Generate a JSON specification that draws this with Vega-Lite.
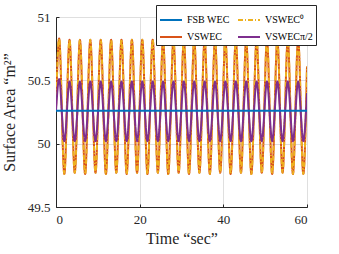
{
  "$schema": "https://vega.github.io/schema/vega-lite/v6.json",
  "width": 251,
  "height": 190,
  "autosize": {"type": "none"},
  "padding": {"left": 56, "top": 17, "right": 32, "bottom": 47},
  "background": "white",
  "config": {
    "font": "Liberation Serif",
    "view": {"stroke": "#262626", "strokeWidth": 1},
    "axis": {
      "domainColor": "#262626",
      "tickColor": "#262626",
      "labelColor": "#262626",
      "titleColor": "#262626",
      "labelFont": "Liberation Serif",
      "titleFont": "Liberation Serif",
      "labelFontSize": 13,
      "titleFontSize": 16,
      "titleFontWeight": "normal",
      "gridColor": "#dfdfdf",
      "gridWidth": 1,
      "ticks": true,
      "tickSize": -3,
      "labelPadding": 9
    },
    "legend": {
      "orient": "none",
      "legendX": 100,
      "legendY": -12,
      "columns": 2,
      "columnPadding": 4,
      "rowPadding": 0,
      "padding": 3,
      "strokeColor": "#262626",
      "fillColor": "white",
      "symbolType": "stroke",
      "symbolSize": 484,
      "symbolStrokeWidth": 2,
      "labelFont": "Liberation Serif",
      "labelFontSize": 10,
      "labelColor": "#000000",
      "labelOffset": 4,
      "title": null
    }
  },
  "data": {
    "values": [
      {"t": 0, "FSB WEC": 50.26, "VSWEC": 50.29, "VSWEC⁰": 50.29, "VSWECπ/2": 50.26},
      {"t": 0.75, "FSB WEC": 50.26, "VSWEC": 50.83, "VSWEC⁰": 50.83, "VSWECπ/2": 50.51},
      {"t": 1.99, "FSB WEC": 50.26, "VSWEC": 49.76, "VSWEC⁰": 49.76, "VSWECπ/2": 50.02},
      {"t": 3.23, "FSB WEC": 50.26, "VSWEC": 50.82, "VSWEC⁰": 50.82, "VSWECπ/2": 50.49},
      {"t": 4.48, "FSB WEC": 50.26, "VSWEC": 49.77, "VSWEC⁰": 49.77, "VSWECπ/2": 50.02},
      {"t": 5.72, "FSB WEC": 50.26, "VSWEC": 50.82, "VSWEC⁰": 50.82, "VSWECπ/2": 50.49},
      {"t": 6.96, "FSB WEC": 50.26, "VSWEC": 49.76, "VSWEC⁰": 49.76, "VSWECπ/2": 50.02},
      {"t": 8.20, "FSB WEC": 50.26, "VSWEC": 50.82, "VSWEC⁰": 50.82, "VSWECπ/2": 50.49},
      {"t": 9.44, "FSB WEC": 50.26, "VSWEC": 49.77, "VSWEC⁰": 49.77, "VSWECπ/2": 50.02},
      {"t": 10.69, "FSB WEC": 50.26, "VSWEC": 50.82, "VSWEC⁰": 50.82, "VSWECπ/2": 50.49},
      {"t": 11.93, "FSB WEC": 50.26, "VSWEC": 49.76, "VSWEC⁰": 49.76, "VSWECπ/2": 50.02},
      {"t": 13.17, "FSB WEC": 50.26, "VSWEC": 50.82, "VSWEC⁰": 50.82, "VSWECπ/2": 50.49},
      {"t": 14.41, "FSB WEC": 50.26, "VSWEC": 49.77, "VSWEC⁰": 49.77, "VSWECπ/2": 50.02},
      {"t": 15.65, "FSB WEC": 50.26, "VSWEC": 50.82, "VSWEC⁰": 50.82, "VSWECπ/2": 50.49},
      {"t": 16.90, "FSB WEC": 50.26, "VSWEC": 49.76, "VSWEC⁰": 49.76, "VSWECπ/2": 50.02},
      {"t": 18.14, "FSB WEC": 50.26, "VSWEC": 50.82, "VSWEC⁰": 50.82, "VSWECπ/2": 50.49},
      {"t": 19.38, "FSB WEC": 50.26, "VSWEC": 49.77, "VSWEC⁰": 49.77, "VSWECπ/2": 50.02},
      {"t": 20.62, "FSB WEC": 50.26, "VSWEC": 50.82, "VSWEC⁰": 50.82, "VSWECπ/2": 50.49},
      {"t": 21.86, "FSB WEC": 50.26, "VSWEC": 49.76, "VSWEC⁰": 49.76, "VSWECπ/2": 50.02},
      {"t": 23.11, "FSB WEC": 50.26, "VSWEC": 50.82, "VSWEC⁰": 50.82, "VSWECπ/2": 50.49},
      {"t": 24.35, "FSB WEC": 50.26, "VSWEC": 49.77, "VSWEC⁰": 49.77, "VSWECπ/2": 50.02},
      {"t": 25.59, "FSB WEC": 50.26, "VSWEC": 50.82, "VSWEC⁰": 50.82, "VSWECπ/2": 50.49},
      {"t": 26.83, "FSB WEC": 50.26, "VSWEC": 49.76, "VSWEC⁰": 49.76, "VSWECπ/2": 50.02},
      {"t": 28.07, "FSB WEC": 50.26, "VSWEC": 50.82, "VSWEC⁰": 50.82, "VSWECπ/2": 50.49},
      {"t": 29.32, "FSB WEC": 50.26, "VSWEC": 49.77, "VSWEC⁰": 49.77, "VSWECπ/2": 50.02},
      {"t": 30.56, "FSB WEC": 50.26, "VSWEC": 50.82, "VSWEC⁰": 50.82, "VSWECπ/2": 50.49},
      {"t": 31.80, "FSB WEC": 50.26, "VSWEC": 49.76, "VSWEC⁰": 49.76, "VSWECπ/2": 50.02},
      {"t": 33.04, "FSB WEC": 50.26, "VSWEC": 50.82, "VSWEC⁰": 50.82, "VSWECπ/2": 50.49},
      {"t": 34.28, "FSB WEC": 50.26, "VSWEC": 49.77, "VSWEC⁰": 49.77, "VSWECπ/2": 50.02},
      {"t": 35.53, "FSB WEC": 50.26, "VSWEC": 50.82, "VSWEC⁰": 50.82, "VSWECπ/2": 50.49},
      {"t": 36.77, "FSB WEC": 50.26, "VSWEC": 49.76, "VSWEC⁰": 49.76, "VSWECπ/2": 50.02},
      {"t": 38.01, "FSB WEC": 50.26, "VSWEC": 50.82, "VSWEC⁰": 50.82, "VSWECπ/2": 50.49},
      {"t": 39.25, "FSB WEC": 50.26, "VSWEC": 49.77, "VSWEC⁰": 49.77, "VSWECπ/2": 50.02},
      {"t": 40.49, "FSB WEC": 50.26, "VSWEC": 50.82, "VSWEC⁰": 50.82, "VSWECπ/2": 50.49},
      {"t": 41.74, "FSB WEC": 50.26, "VSWEC": 49.76, "VSWEC⁰": 49.76, "VSWECπ/2": 50.02},
      {"t": 42.98, "FSB WEC": 50.26, "VSWEC": 50.82, "VSWEC⁰": 50.82, "VSWECπ/2": 50.49},
      {"t": 44.22, "FSB WEC": 50.26, "VSWEC": 49.77, "VSWEC⁰": 49.77, "VSWECπ/2": 50.02},
      {"t": 45.46, "FSB WEC": 50.26, "VSWEC": 50.82, "VSWEC⁰": 50.82, "VSWECπ/2": 50.49},
      {"t": 46.70, "FSB WEC": 50.26, "VSWEC": 49.76, "VSWEC⁰": 49.76, "VSWECπ/2": 50.02},
      {"t": 47.95, "FSB WEC": 50.26, "VSWEC": 50.82, "VSWEC⁰": 50.82, "VSWECπ/2": 50.49},
      {"t": 49.19, "FSB WEC": 50.26, "VSWEC": 49.77, "VSWEC⁰": 49.77, "VSWECπ/2": 50.02},
      {"t": 50.43, "FSB WEC": 50.26, "VSWEC": 50.82, "VSWEC⁰": 50.82, "VSWECπ/2": 50.49},
      {"t": 51.67, "FSB WEC": 50.26, "VSWEC": 49.76, "VSWEC⁰": 49.76, "VSWECπ/2": 50.02},
      {"t": 52.91, "FSB WEC": 50.26, "VSWEC": 50.82, "VSWEC⁰": 50.82, "VSWECπ/2": 50.49},
      {"t": 54.16, "FSB WEC": 50.26, "VSWEC": 49.77, "VSWEC⁰": 49.77, "VSWECπ/2": 50.02},
      {"t": 55.40, "FSB WEC": 50.26, "VSWEC": 50.82, "VSWEC⁰": 50.82, "VSWECπ/2": 50.49},
      {"t": 56.64, "FSB WEC": 50.26, "VSWEC": 49.76, "VSWEC⁰": 49.76, "VSWECπ/2": 50.02},
      {"t": 57.88, "FSB WEC": 50.26, "VSWEC": 50.83, "VSWEC⁰": 50.83, "VSWECπ/2": 50.49},
      {"t": 59.12, "FSB WEC": 50.26, "VSWEC": 49.76, "VSWEC⁰": 49.76, "VSWECπ/2": 50.02},
      {"t": 60, "FSB WEC": 50.26, "VSWEC": 50.61, "VSWEC⁰": 50.61, "VSWECπ/2": 50.40}
    ]
  },
  "transform": [
    {"fold": ["VSWEC", "VSWEC⁰", "VSWECπ/2", "FSB WEC"], "as": ["series", "area"]}
  ],
  "encoding": {
    "x": {
      "field": "t",
      "type": "quantitative",
      "scale": {"domain": [0, 60], "nice": false},
      "axis": {"values": [0, 20, 40, 60], "title": "Time “sec”", "grid": true, "titlePadding": 4}
    },
    "y": {
      "field": "area",
      "type": "quantitative",
      "scale": {"domain": [49.5, 51], "nice": false, "zero": false},
      "axis": {"values": [49.5, 50, 50.5, 51], "format": "~g", "title": "Surface Area “m²”", "grid": true, "titlePadding": 10}
    },
    "color": {
      "field": "series",
      "type": "nominal",
      "scale": {
        "domain": ["FSB WEC", "VSWEC", "VSWEC⁰", "VSWECπ/2"],
        "range": ["#0072BD", "#D95319", "#EDB120", "#7E2F8E"]
      }
    },
    "strokeDash": {
      "field": "series",
      "type": "nominal",
      "scale": {
        "domain": ["FSB WEC", "VSWEC", "VSWEC⁰", "VSWECπ/2"],
        "range": [[1, 0], [1, 0], [5, 2, 1, 2], [1, 0]]
      }
    }
  },
  "layer": [
    {
      "transform": [{"filter": "datum.series === 'VSWEC'"}],
      "mark": {"type": "line", "interpolate": "monotone", "strokeWidth": 2, "clip": true}
    },
    {
      "transform": [{"filter": "datum.series === 'VSWEC⁰'"}],
      "mark": {"type": "line", "interpolate": "monotone", "strokeWidth": 2, "clip": true}
    },
    {
      "transform": [{"filter": "datum.series === 'VSWECπ/2'"}],
      "mark": {"type": "line", "interpolate": "monotone", "strokeWidth": 2, "clip": true}
    },
    {
      "transform": [{"filter": "datum.series === 'FSB WEC'"}],
      "mark": {"type": "line", "interpolate": "monotone", "strokeWidth": 2, "clip": true}
    }
  ]
}
